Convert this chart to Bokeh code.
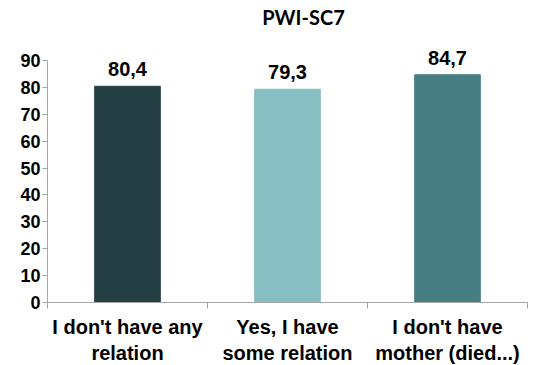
from bokeh.plotting import figure
from bokeh.models import ColumnDataSource, FixedTicker, Range1d
from bokeh.core.properties import value
from bokeh.embed import file_html
from bokeh.resources import INLINE

categories = ["I don't have any\nrelation", "Yes, I have\nsome relation", "I don't have\nmother (died...)"]
values = [80.4, 79.3, 84.7]
value_labels = ["80,4", "79,3", "84,7"]
colors = ["#243F44", "#86BEC1", "#467E84"]
y_ticks = [0, 10, 20, 30, 40, 50, 60, 70, 80, 90]
title_text = "PWI-SC7"

xs = [i + 0.5 for i in range(len(values))]

p = figure(width=550, height=365, frame_width=480, frame_height=302,
           x_range=Range1d(0, 3), y_range=Range1d(0, 112.3),
           output_backend="svg", toolbar_location=None,
           min_border_left=47, min_border_right=23, min_border_top=0, min_border_bottom=63)
p.outline_line_color = None
p.grid.grid_line_color = None
p.background_fill_color = "white"
p.border_fill_color = "white"

src = ColumnDataSource(dict(x=xs, top=values, color=colors, lab=value_labels))
p.vbar(x="x", top="top", width=0.41, bottom=0, color="color", source=src)

p.text(x="x", y="top", text="lab", source=src, text_align="center",
       text_baseline="bottom", y_offset=-10, text_font=value("Liberation Sans"),
       text_font_style="bold", text_font_size="20px", text_color="#000000")

p.text(x=[1.6], y=[106.2], text=[title_text], text_align="center",
       text_baseline="middle", text_font=value("Lato"), text_font_style="bold",
       text_font_size="20px", text_color="#000000")

# y axis
p.yaxis.ticker = FixedTicker(ticks=y_ticks)
p.yaxis.bounds = (0, 90)
p.yaxis.axis_line_color = "#A6A6A6"
p.yaxis.major_tick_line_color = "#A6A6A6"
p.yaxis.major_tick_out = 5
p.yaxis.major_tick_in = 0
p.yaxis.minor_tick_line_color = None
p.yaxis.major_label_standoff = 2
p.yaxis.major_label_text_font = "Liberation Sans"
p.yaxis.major_label_text_font_style = "bold"
p.yaxis.major_label_text_font_size = "18px"
p.yaxis.major_label_text_color = "#000000"

# x axis: labels at centres, ticks at category boundaries
p.xaxis.ticker = FixedTicker(ticks=xs, minor_ticks=[0, 1, 2, 3])
p.xaxis.major_label_overrides = {x: c for x, c in zip(xs, categories)}
p.xaxis.axis_line_color = "#A6A6A6"
p.xaxis.minor_tick_line_color = "#A6A6A6"
p.xaxis.minor_tick_out = 6
p.xaxis.minor_tick_in = 0
p.xaxis.major_tick_line_color = None
p.xaxis.major_label_standoff = 7
p.xaxis.major_label_text_font = "Liberation Sans"
p.xaxis.major_label_text_font_style = "bold"
p.xaxis.major_label_text_font_size = "20px"
p.xaxis.major_label_text_color = "#000000"

open("out.html", "w").write(file_html(p, INLINE))
